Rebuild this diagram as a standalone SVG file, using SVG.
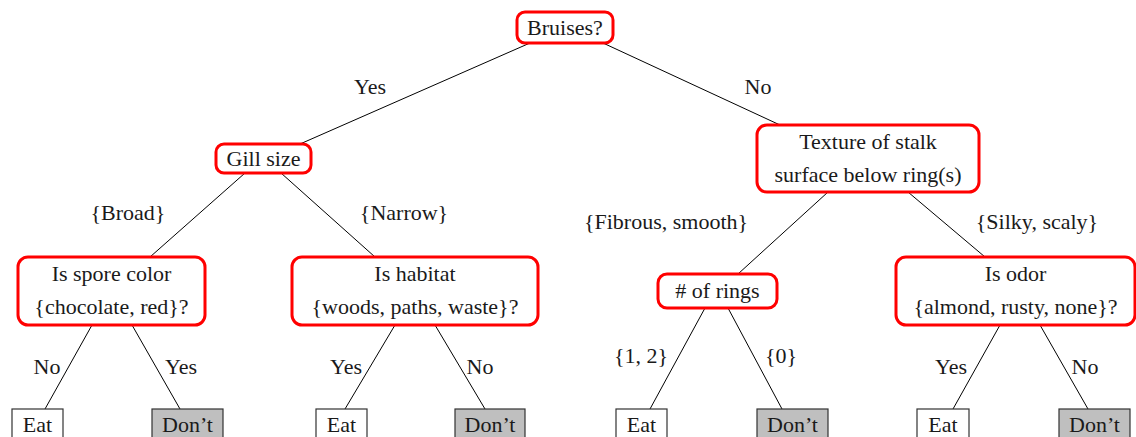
<svg xmlns="http://www.w3.org/2000/svg" width="1136" height="437" viewBox="0 0 1136 437">
<style>
text{font-family:'Liberation Serif','Times New Roman',serif;font-size:22px;fill:#1a1a1a;text-anchor:middle}
.q{fill:#fff;stroke:#f00;stroke-width:3}
.eat{fill:#fff;stroke:#333;stroke-width:1.2}
.dont{fill:#bfbfbf;stroke:#333;stroke-width:1.2}
#edges line{stroke:#000;stroke-width:1}
</style>
<rect width="1136" height="437" fill="#fff"/>
<g id="edges">
<line x1="530" y1="43" x2="300" y2="144"/>
<line x1="603" y1="43" x2="780" y2="125"/>
<line x1="245" y1="173" x2="150" y2="257"/>
<line x1="281" y1="173" x2="375" y2="257"/>
<line x1="828" y1="192" x2="738" y2="274"/>
<line x1="908" y1="192" x2="985" y2="257"/>
<line x1="92" y1="325" x2="45" y2="409"/>
<line x1="132" y1="325" x2="180" y2="409"/>
<line x1="395" y1="325" x2="345" y2="409"/>
<line x1="435" y1="325" x2="485" y2="409"/>
<line x1="705" y1="308" x2="650" y2="409"/>
<line x1="728" y1="308" x2="782" y2="409"/>
<line x1="1000" y1="325" x2="953" y2="409"/>
<line x1="1040" y1="325" x2="1088" y2="409"/>
</g>
<g id="edge-labels">
<text x="370" y="94">Yes</text>
<text x="758" y="94">No</text>
<text x="128" y="220">{Broad}</text>
<text x="404" y="220">{Narrow}</text>
<text x="666" y="229">{Fibrous, smooth}</text>
<text x="1037" y="229">{Silky, scaly}</text>
<text x="47" y="374">No</text>
<text x="181" y="374">Yes</text>
<text x="346" y="374">Yes</text>
<text x="480" y="374">No</text>
<text x="641" y="363">{1, 2}</text>
<text x="781" y="363">{0}</text>
<text x="951" y="374">Yes</text>
<text x="1085" y="374">No</text>
</g>
<g id="n-bruises"><rect class="q" x="517" y="12" width="96" height="31" rx="8"/><text x="565" y="35">Bruises?</text></g>
<g id="n-gill"><rect class="q" x="216" y="144" width="95" height="29" rx="8"/><text x="263.5" y="166">Gill size</text></g>
<g id="n-texture"><rect class="q" x="757" y="125" width="222" height="67" rx="10"/><text x="868" y="149">Texture of stalk</text><text x="868" y="182">surface below ring(s)</text></g>
<g id="n-spore"><rect class="q" x="18" y="257" width="187" height="68" rx="10"/><text x="111.5" y="281">Is spore color</text><text x="111.5" y="314">{chocolate, red}?</text></g>
<g id="n-habitat"><rect class="q" x="292" y="257" width="246" height="68" rx="10"/><text x="415" y="281">Is habitat</text><text x="415" y="314">{woods, paths, waste}?</text></g>
<g id="n-rings"><rect class="q" x="658" y="274" width="119" height="34" rx="9"/><text x="717.5" y="298"># of rings</text></g>
<g id="n-odor"><rect class="q" x="896" y="257" width="239" height="68" rx="10"/><text x="1015.5" y="281">Is odor</text><text x="1015.5" y="314">{almond, rusty, none}?</text></g>
<g id="leaf1"><rect class="eat" x="12" y="409" width="51" height="32"/><text x="37.5" y="432">Eat</text></g>
<g id="leaf2"><rect class="dont" x="152" y="409" width="71" height="32"/><text x="187.5" y="432">Don’t</text></g>
<g id="leaf3"><rect class="eat" x="316" y="409" width="51" height="32"/><text x="341.5" y="432">Eat</text></g>
<g id="leaf4"><rect class="dont" x="455" y="409" width="70" height="32"/><text x="490" y="432">Don’t</text></g>
<g id="leaf5"><rect class="eat" x="616" y="409" width="51" height="32"/><text x="641.5" y="432">Eat</text></g>
<g id="leaf6"><rect class="dont" x="757" y="409" width="71" height="32"/><text x="792.5" y="432">Don’t</text></g>
<g id="leaf7"><rect class="eat" x="917" y="409" width="52" height="32"/><text x="943" y="432">Eat</text></g>
<g id="leaf8"><rect class="dont" x="1059" y="409" width="71" height="32"/><text x="1094.5" y="432">Don’t</text></g>
</svg>
